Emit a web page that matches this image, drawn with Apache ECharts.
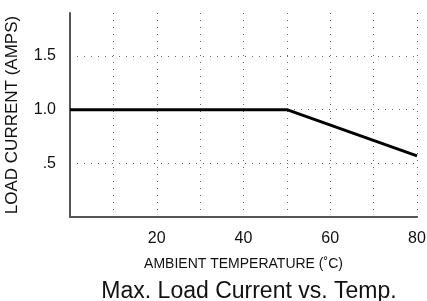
<!DOCTYPE html>
<html>
<head>
<meta charset="utf-8">
<script src="https://cdn.jsdelivr.net/npm/echarts@6/dist/echarts.min.js"></script>
<style>
  html, body { margin: 0; padding: 0; background: #fff; }
  #container { width: 427px; height: 301px; }
</style>
</head>
<body>
<div id="container"></div>
<script>
// derating curve
var tempC = [0, 50, 80];
var loadAmps = [1.0, 1.0, 0.57];
var xTickLabels = { 20: '20', 40: '40', 60: '60', 80: '80' };
var yTickLabels = { 0.5: '.5', 1: '1.0', 1.5: '1.5' };

var font = 'Liberation Sans';

var dom = document.getElementById('container');
var myChart = echarts.init(dom, null, { renderer: 'canvas' });

var option = {
    animation: false,
    title: {
        text: 'Max. Load Current vs. Temp.',
        left: 244,
        top: 275,
        textAlign: 'center',
        textStyle: { fontFamily: font, fontSize: 23, fontWeight: 'normal', color: '#111' }
    },
    grid: { left: 70, right: 10, top: 13, bottom: 84, outerBoundsMode: 'none' },
    xAxis: {
        type: 'value',
        min: 0,
        max: 80,
        interval: 10,
        name: 'AMBIENT TEMPERATURE (˚C)',
        nameLocation: 'middle',
        nameGap: 40,
        nameTextStyle: { fontFamily: font, fontSize: 14, color: '#111' },
        axisLine: { lineStyle: { color: '#555', width: 2 } },
        axisTick: { show: false },
        axisLabel: {
            margin: 14,
            fontFamily: font, fontSize: 16, color: '#111',
            formatter: function (v) { return xTickLabels[v] || ''; }
        },
        splitLine: { show: true, lineStyle: { color: '#666', type: [1, 6], width: 1 } }
    },
    yAxis: {
        type: 'value',
        min: 0,
        max: 1.9,
        interval: 0.5,
        name: 'LOAD CURRENT (AMPS)',
        nameLocation: 'middle',
        nameRotate: 90,
        nameGap: 49,
        nameTextStyle: { fontFamily: font, fontSize: 17, color: '#111' },
        axisLine: { show: true, lineStyle: { color: '#555', width: 2 } },
        axisTick: { show: false },
        axisLabel: {
            margin: 14,
            fontFamily: font, fontSize: 16, color: '#111',
            formatter: function (v) { return yTickLabels[v] || ''; }
        },
        splitLine: {
            show: true,
            lineStyle: { color: ['transparent', '#666', '#666', '#666', 'transparent'], type: [1, 6], width: 1 }
        }
    },
    series: [
        {
            type: 'line',
            data: tempC.map(function (t, i) { return [t, loadAmps[i]]; }),
            symbol: 'none',
            lineStyle: { color: '#000', width: 3 }
        }
    ]
};

myChart.setOption(option);
</script>
</body>
</html>
